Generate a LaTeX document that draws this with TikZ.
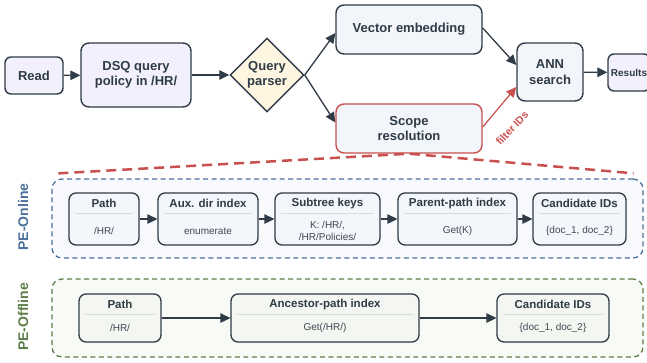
\documentclass[tikz,border=0pt]{standalone}
\usepackage{fontspec}
\setmainfont{Liberation Sans}
\usepackage{tikz}
\usetikzlibrary{arrows.meta,calc,shapes.geometric}
\usepackage{xcolor}

\definecolor{ink}{HTML}{2F3B46}
\definecolor{bodyink}{HTML}{3E4852}
\definecolor{lavfill}{HTML}{F3F0FD}
\definecolor{slatefill}{HTML}{F2F5FA}
\definecolor{parsefill}{HTML}{FEF6E0}
\definecolor{scopered}{HTML}{C8504E}
\definecolor{onblue}{HTML}{4C6F9E}
\definecolor{onbg}{HTML}{F7F9FC}
\definecolor{onfill}{HTML}{F3F6FA}
\definecolor{offgreen}{HTML}{5C7D48}
\definecolor{offbg}{HTML}{F8FAF5}
\definecolor{offfill}{HTML}{F4F6F1}
\definecolor{sepgray}{HTML}{D8DBDF}

% box with a title, a thin rule and a body line
\newcommand{\stagebox}[8]{%
    \node[#2, minimum width=#5, minimum height=#6] (#1) at (#3,#4) {};
    \node[stagetitle] (#1-t) at ($(#1.north)+(0,11)$) {#7};
    \draw[sepline] ($(#1.north west)+(7,21.5)$) -- ($(#1.north east)+(-7,21.5)$);
    \node[stagebody] (#1-b) at ($(#1.south)+(0,-14.5)$) {#8};
}

\begin{document}
\begin{tikzpicture}
        [   x = 1pt
        ,   y = -1pt
        ,   box/.style =
            {   draw = ink
            ,   line width = 1.4pt
            ,   rounded corners = 8pt
            ,   text = ink
            ,   align = center
            ,   font = \fontsize{13}{15.5}\selectfont\bfseries
            }
        ,   stage/.style =
            {   draw = ink
            ,   line width = 1.3pt
            ,   rounded corners = 7pt
            }
        ,   stagetitle/.style =
            {   inner sep = 0pt
            ,   text = ink
            ,   font = \fontsize{11.5}{13}\selectfont\bfseries
            }
        ,   stagebody/.style =
            {   inner sep = 0pt
            ,   text = bodyink
            ,   align = center
            ,   font = \fontsize{10}{12}\selectfont
            }
        ,   sepline/.style =
            {   draw = sepgray
            ,   line width = 1pt
            }
        ,   flow/.style =
            {   draw = ink
            ,   line width = 1.3pt
            ,   -{Triangle[length=10pt,width=9.5pt]}
            }
        ,   group/.style =
            {   line width = 1.3pt
            ,   dash pattern = on 5pt off 3.5pt
            ,   rounded corners = 10pt
            ,   minimum width = 591pt
            }
        ,   grouplabel/.style =
            {   rotate = 90
            ,   inner sep = 0pt
            ,   font = \fontsize{14}{16}\selectfont\bfseries
            }
        ]
        \useasboundingbox (0,0) rectangle (647,362);

        % query path
        \node[box, fill = lavfill, rounded corners = 6pt, minimum width = 58pt, minimum height = 37pt]
            (read) at (34,75.5) {Read};
        \node[box, fill = lavfill, minimum width = 110pt, minimum height = 64pt]
            (dsq) at (136,75) {DSQ query\\policy in /HR/};
        \node[box, diamond, sharp corners, fill = parsefill, inner sep = 0pt, minimum width = 74pt, minimum height = 74pt]
            (parser) at (267,75) {Query\\parser};
        \node[box, fill = slatefill, minimum width = 146pt, minimum height = 49pt]
            (embed) at (409,29.5) {Vector embedding};
        \node[box, draw = scopered, fill = slatefill, minimum width = 146pt, minimum height = 49pt]
            (scope) at (409,128.5) {Scope\\resolution};
        \node[box, fill = slatefill, minimum width = 66pt, minimum height = 58pt]
            (ann) at (550,72) {ANN\\search};
        \node[box, fill = lavfill, rounded corners = 6pt, inner sep = 2pt, minimum width = 42pt, minimum height = 37pt,
            font = \fontsize{10}{12}\selectfont\bfseries]
            (results) at (629,72.5) {Results};

        \draw[flow] (read) -- (dsq);
        \draw[flow] (dsq) -- (parser);
        \draw[flow] (parser.east) -- ($(embed.west)+(0,3.5)$);
        \draw[flow] (parser.east) -- ($(scope.west)+(0,-6)$);
        \draw[flow] ($(embed.east)+(0,-1.5)$) -- ($(ann.west)+(0,-7)$);
        \draw[flow, draw = scopered, line width = 1.2pt]
            ($(scope.east)+(0,-1.5)$) -- ($(ann.west)+(0,15)$);
        \node[rotate = 47, text = scopered, inner sep = 0pt, font = \fontsize{10.5}{12}\selectfont\bfseries]
            (filt) at (512,128) {filter IDs};
        \draw[flow] (ann) -- (results);

        % PE-Online
        \node[group, draw = onblue, fill = onbg, minimum height = 79pt] (online) at (347.5,218.5) {};
        \node[grouplabel, text = onblue] (onlabel) at (23,217) {PE-Online};
        \stagebox{onpath}{stage, fill = onfill}{104}{219}{70}{52}{Path}{/HR/}
        \stagebox{aux}{stage, fill = onfill}{208}{219}{100}{52}{Aux. dir index}{enumerate}
        \stagebox{subtree}{stage, fill = onfill}{327.5}{219}{105}{52}{Subtree keys}{K: /HR/,\\/HR/Policies/}
        \stagebox{parent}{stage, fill = onfill}{457.5}{219}{119}{52}{Parent-path index}{Get(K)}
        \stagebox{oncand}{stage, fill = onfill}{579.5}{219}{93}{52}{Candidate IDs}{\{doc\_1, doc\_2\}}
        \draw[flow] (onpath) -- (aux);
        \draw[flow] (aux) -- (subtree);
        \draw[flow] (subtree) -- (parent);
        \draw[flow] (parent) -- (oncand);

        % zoom from scope resolution
        \draw[scopered, line width = 2.5pt, dash pattern = on 10pt off 6pt]
            ($(online.north west)+(7,-5)$) -- (scope.south) -- ($(online.north east)+(-10,-5)$);

        % PE-Offline
        \node[group, draw = offgreen, fill = offbg, minimum height = 78pt] (offline) at (347.5,318) {};
        \node[grouplabel, text = offgreen] (offlabel) at (23,317) {PE-Offline};
        \stagebox{offpath}{stage, fill = offfill}{120}{318}{82}{48}{Path}{/HR/}
        \stagebox{ancestor}{stage, fill = offfill}{325}{318}{188}{48}{Ancestor-path index}{Get(/HR/)}
        \stagebox{offcand}{stage, fill = offfill}{553}{318}{112}{48}{Candidate IDs}{\{doc\_1, doc\_2\}}
        \draw[flow] (offpath) -- (ancestor);
        \draw[flow] (ancestor) -- (offcand);
\end{tikzpicture}
\end{document}
